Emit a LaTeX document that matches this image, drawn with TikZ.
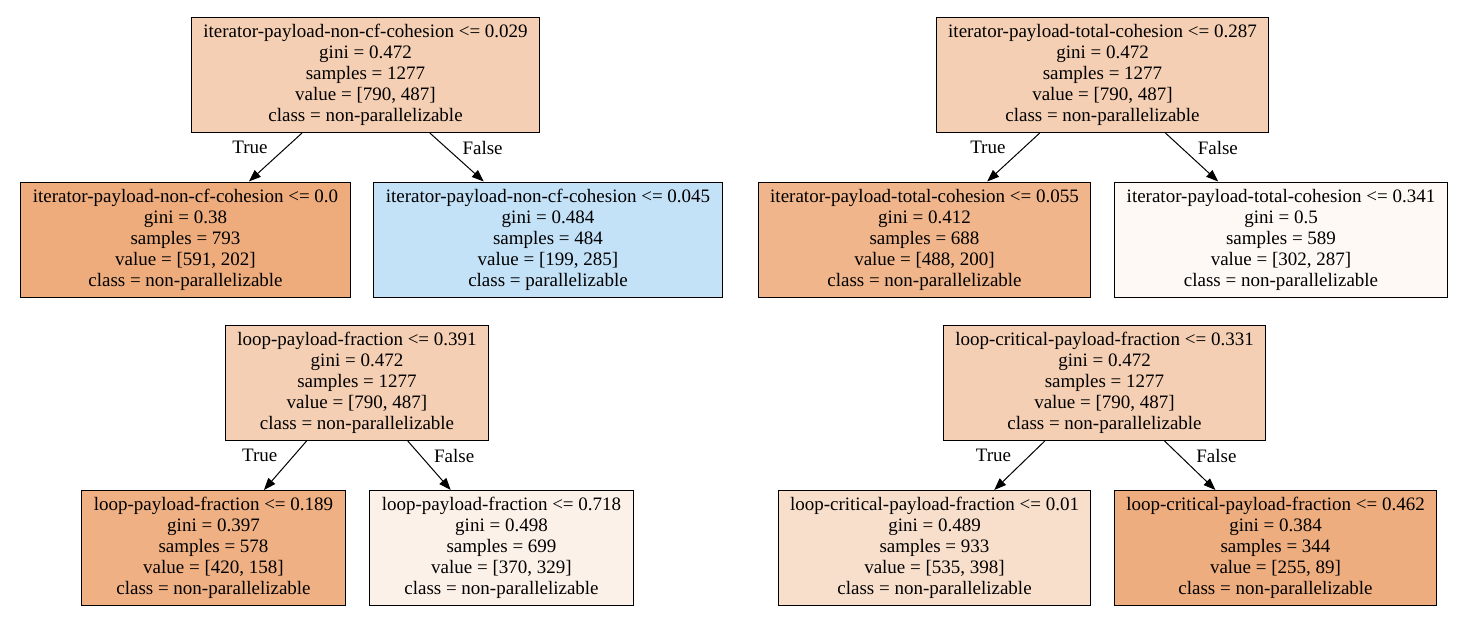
\documentclass[tikz,border=0pt]{standalone}
\usepackage{fontspec}
\setmainfont{Liberation Serif}
\usetikzlibrary{arrows.meta}
\definecolor{rootfill}{RGB}{245,207,179}
\definecolor{fillA}{RGB}{238,172,125}
\definecolor{fillB}{RGB}{195,225,247}
\definecolor{fillC}{RGB}{240,181,138}
\definecolor{fillD}{RGB}{254,249,245}
\definecolor{fillE}{RGB}{239,176,131}
\definecolor{fillF}{RGB}{252,241,233}
\definecolor{fillG}{RGB}{248,223,204}
\definecolor{fillH}{RGB}{238,173,126}

\begin{document}
\begin{tikzpicture}[x=1pt, y=-1pt,
    split/.style={draw, line width=1pt, align=center, inner xsep=12pt, minimum height=115pt,
                  font=\fontsize{19}{21}\selectfont},
    tag/.style={inner sep=0pt, font=\fontsize{19}{21}\selectfont}]
  \useasboundingbox (0,0) rectangle (1461,624);

  \node[split, fill=rootfill] (r1) at (365.5,75) {iterator-payload-non-cf-cohesion <= 0.029\\ gini = 0.472\\ samples = 1277\\ value = [790, 487]\\ class = non-parallelizable};
  \node[split, fill=fillA] (r1-t) at (185.5,239.5) {iterator-payload-non-cf-cohesion <= 0.0\\ gini = 0.38\\ samples = 793\\ value = [591, 202]\\ class = non-parallelizable};
  \node[split, fill=fillB] (r1-f) at (548,239.5) {iterator-payload-non-cf-cohesion <= 0.045\\ gini = 0.484\\ samples = 484\\ value = [199, 285]\\ class = parallelizable};

  \node[split, fill=rootfill] (r2) at (1102.5,75) {iterator-payload-total-cohesion <= 0.287\\ gini = 0.472\\ samples = 1277\\ value = [790, 487]\\ class = non-parallelizable};
  \node[split, fill=fillC] (r2-t) at (924.5,239.5) {iterator-payload-total-cohesion <= 0.055\\ gini = 0.412\\ samples = 688\\ value = [488, 200]\\ class = non-parallelizable};
  \node[split, fill=fillD] (r2-f) at (1281,239.5) {iterator-payload-total-cohesion <= 0.341\\ gini = 0.5\\ samples = 589\\ value = [302, 287]\\ class = non-parallelizable};

  \node[split, fill=rootfill] (r3) at (357,383) {loop-payload-fraction <= 0.391\\ gini = 0.472\\ samples = 1277\\ value = [790, 487]\\ class = non-parallelizable};
  \node[split, fill=fillE] (r3-t) at (213.5,548) {loop-payload-fraction <= 0.189\\ gini = 0.397\\ samples = 578\\ value = [420, 158]\\ class = non-parallelizable};
  \node[split, fill=fillF] (r3-f) at (501.5,548) {loop-payload-fraction <= 0.718\\ gini = 0.498\\ samples = 699\\ value = [370, 329]\\ class = non-parallelizable};

  \node[split, fill=rootfill] (r4) at (1104.5,383) {loop-critical-payload-fraction <= 0.331\\ gini = 0.472\\ samples = 1277\\ value = [790, 487]\\ class = non-parallelizable};
  \node[split, fill=fillG] (r4-t) at (934.5,548) {loop-critical-payload-fraction <= 0.01\\ gini = 0.489\\ samples = 933\\ value = [535, 398]\\ class = non-parallelizable};
  \node[split, fill=fillH] (r4-f) at (1275.5,548) {loop-critical-payload-fraction <= 0.462\\ gini = 0.384\\ samples = 344\\ value = [255, 89]\\ class = non-parallelizable};

  \path[-{Triangle[length=12pt, width=9pt]}, line width=1pt]
    (r1) edge node[tag, pos=0.3, left=18pt] {True} (r1-t)
         edge node[tag, pos=0.3, right=16pt] {False} (r1-f)
    (r2) edge node[tag, pos=0.3, left=18pt] {True} (r2-t)
         edge node[tag, pos=0.3, right=16pt] {False} (r2-f)
    (r3) edge node[tag, pos=0.3, left=16pt] {True} (r3-t)
         edge node[tag, pos=0.3, right=13pt] {False} (r3-f)
    (r4) edge node[tag, pos=0.3, left=18pt] {True} (r4-t)
         edge node[tag, pos=0.3, right=16pt] {False} (r4-f);
\end{tikzpicture}
\end{document}
